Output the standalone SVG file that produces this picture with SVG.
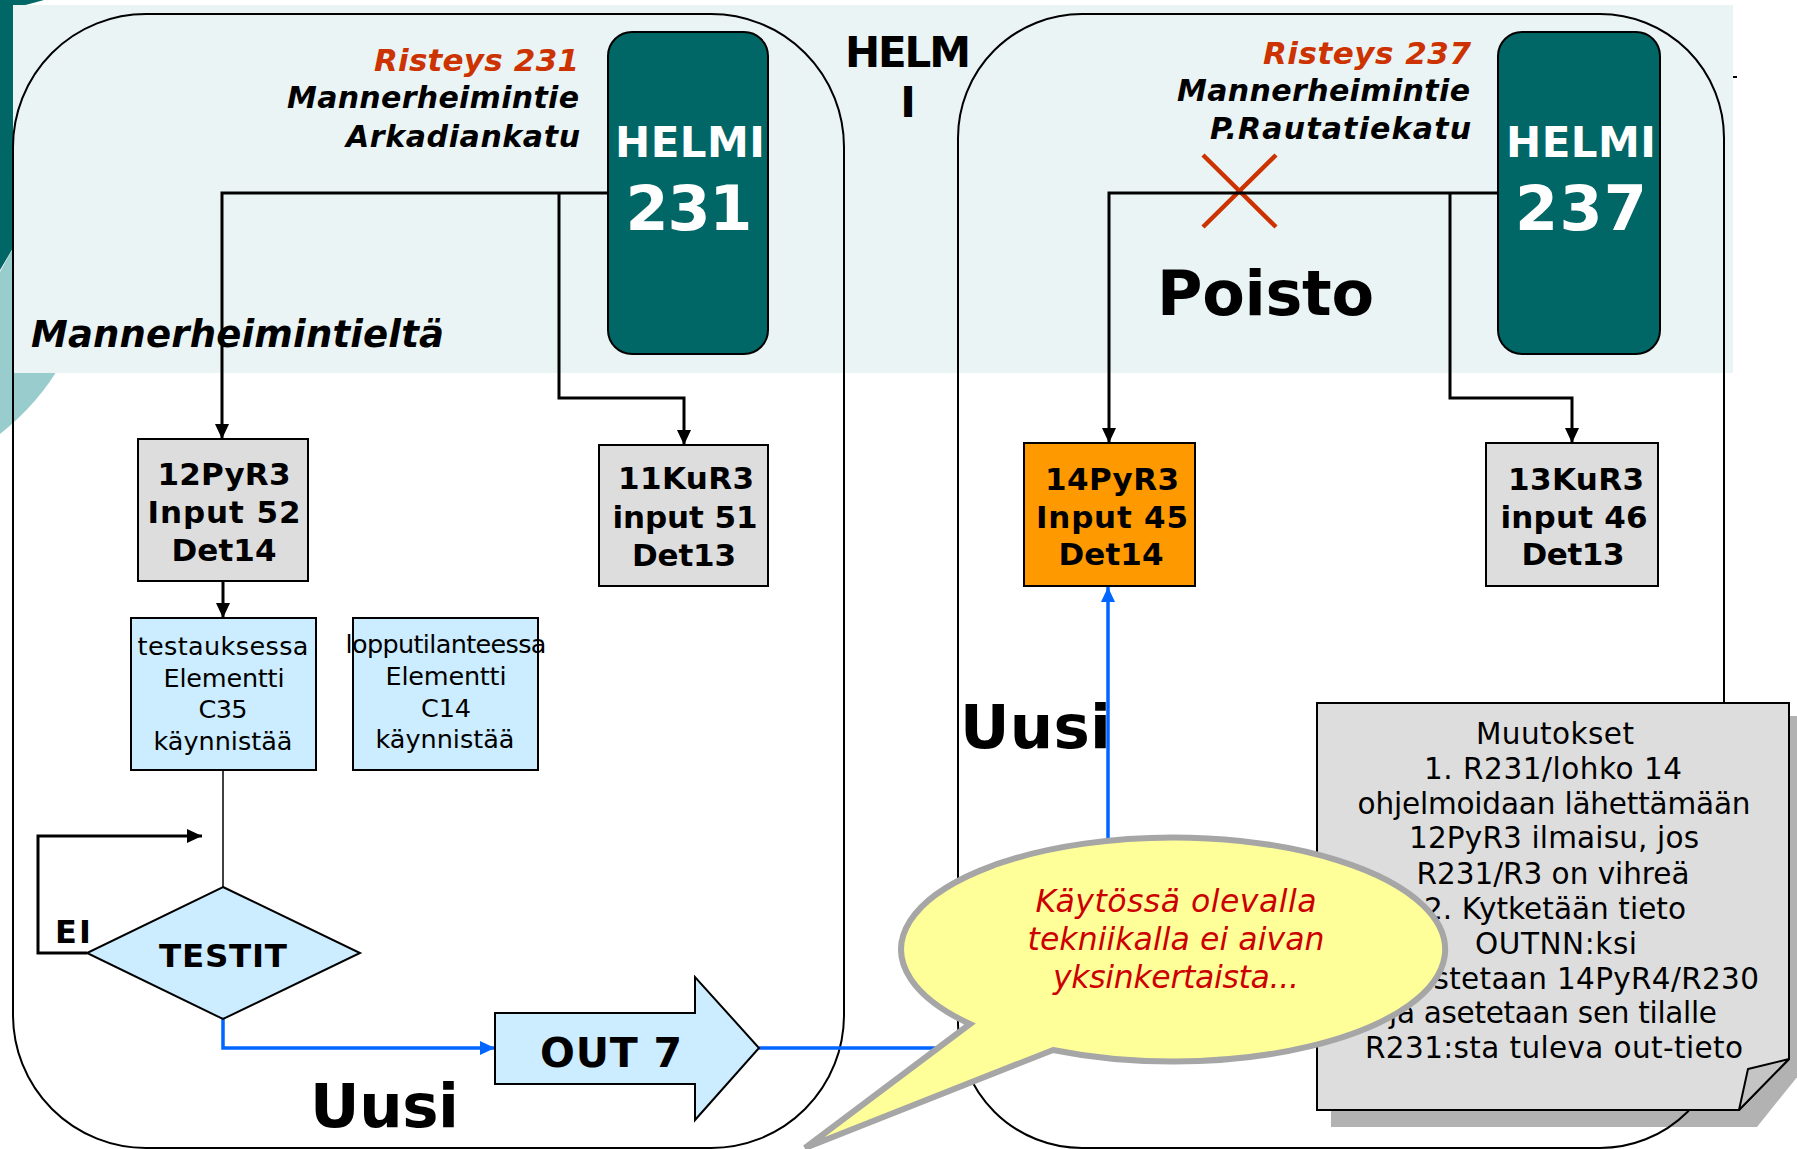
<svg xmlns="http://www.w3.org/2000/svg" width="1797" height="1149" viewBox="0 0 1797 1149">
<defs>
<marker id="ab" markerUnits="userSpaceOnUse" markerWidth="16" markerHeight="16" refX="15" refY="8" orient="auto"><path d="M0,1 L15,8 L0,15 Z" fill="#000"/></marker>
<marker id="abl" markerUnits="userSpaceOnUse" markerWidth="16" markerHeight="16" refX="15" refY="8" orient="auto"><path d="M0,1 L15,8 L0,15 Z" fill="#0066FF"/></marker>
</defs>
<style>
text{font-family:"DejaVu Sans",Verdana,sans-serif;fill:#000}
.b{font-weight:bold}
.bi{font-weight:bold;font-style:italic}
.it{font-style:italic}
.ln{fill:none;stroke:#000;stroke-width:3}
.bl{fill:none;stroke:#0066FF;stroke-width:3.5}
.gbox{fill:#DDDDDD;stroke:#000;stroke-width:2}
.lb{fill:#CCECFF;stroke:#000;stroke-width:2}
.helmi{fill:#006666;stroke:#000;stroke-width:2}
.panel{fill:none;stroke:#000;stroke-width:2}
.wt{fill:#fff;font-weight:bold}
.red{fill:#CC3300}
.c{text-anchor:middle}
.e{text-anchor:end}
</style>
<g id="background">
<path d="M0,0 H44 Q30,4 13,8 V248 L0,270 Z" fill="#006666"/>
<path d="M0,272 L14,246 L62,362 Q40,402 0,434 Z" fill="#99CCCC"/>
<rect x="13" y="5" width="1720" height="368" fill="#EAF4F5"/>
<rect x="1733" y="76" width="4" height="2" fill="#000"/>
</g>
<g id="panels">
<rect x="13" y="14" width="831" height="1134" rx="133" class="panel"/>
<rect x="958" y="14" width="766" height="1134" rx="124" class="panel"/>
</g>
<g id="labels">
<text x="579" y="71" class="bi red e" font-size="31" textLength="205">Risteys 231</text>
<text x="579" y="108" class="bi e" font-size="30" textLength="292">Mannerheimintie</text>
<text x="580" y="147" class="bi e" font-size="30" textLength="234">Arkadiankatu</text>
<text x="1471" y="64" class="bi red e" font-size="31" textLength="208">Risteys 237</text>
<text x="1470" y="101" class="bi e" font-size="30" textLength="293">Mannerheimintie</text>
<text x="1471" y="139" class="bi e" font-size="30" textLength="261">P.Rautatiekatu</text>
<text x="31" y="347" class="bi" font-size="37" textLength="413">Mannerheimintieltä</text>
<text x="908" y="67" class="b c" font-size="42" textLength="126">HELM</text>
<text x="908" y="117" class="b c" font-size="42">I</text>
<text x="1157" y="315" class="b" font-size="62" textLength="217">Poisto</text>
<text x="960" y="748" class="b" font-size="61" textLength="151">Uusi</text>
<text x="310" y="1127" class="b" font-size="61" textLength="149">Uusi</text>
<text x="55" y="943" class="b" font-size="32" textLength="36">EI</text>
<path d="M1203,155 L1276,227 M1276,155 L1203,227" stroke="#CC3300" stroke-width="4.5" fill="none"/>
</g>
<g id="connectors">
<path d="M608,193 H222 V439" class="ln" marker-end="url(#ab)"/>
<path d="M559,193 V398 H684 V445" class="ln" marker-end="url(#ab)"/>
<path d="M1498,193 H1109 V443" class="ln" marker-end="url(#ab)"/>
<path d="M1450,193 V398 H1572 V443" class="ln" marker-end="url(#ab)"/>
<path d="M223,581 V618" class="ln" marker-end="url(#ab)"/>
<path d="M223,770 V887" fill="none" stroke="#000" stroke-width="1.5"/>
<path d="M87,953 H38 V836 H202" class="ln" marker-end="url(#ab)"/>
<path d="M223,1019 V1048 H495" class="bl" marker-end="url(#abl)"/>
<path d="M759,1048 H1108 V587" class="bl" marker-end="url(#abl)"/>
</g>
<g id="helmi231">
<rect x="608" y="32" width="160" height="322" rx="24" class="helmi"/>
<text x="690" y="157" class="wt c" font-size="42" textLength="150">HELMI</text>
<text x="689" y="230" class="wt c" font-size="62" textLength="127">231</text>
</g>
<g id="helmi237">
<rect x="1498" y="32" width="162" height="322" rx="24" class="helmi"/>
<text x="1581" y="157" class="wt c" font-size="42" textLength="150">HELMI</text>
<text x="1581" y="230" class="wt c" font-size="62" textLength="132">237</text>
</g>
<g id="n12PyR3">
<rect x="138" y="439" width="170" height="142" class="gbox"/>
<text x="224" y="485" class="b c" font-size="31" textLength="133">12PyR3</text>
<text x="224" y="523" class="b c" font-size="31" textLength="153">Input 52</text>
<text x="224" y="561" class="b c" font-size="31" textLength="105">Det14</text>
</g>
<g id="n11KuR3">
<rect x="599" y="445" width="169" height="141" class="gbox"/>
<text x="686" y="489" class="b c" font-size="31" textLength="136">11KuR3</text>
<text x="685" y="528" class="b c" font-size="31" textLength="145">input 51</text>
<text x="684" y="566" class="b c" font-size="31" textLength="104">Det13</text>
</g>
<g id="n14PyR3">
<rect x="1024" y="443" width="171" height="143" fill="#FF9900" stroke="#000" stroke-width="2"/>
<text x="1112" y="490" class="b c" font-size="31" textLength="134">14PyR3</text>
<text x="1112" y="528" class="b c" font-size="31" textLength="152">Input 45</text>
<text x="1111" y="565" class="b c" font-size="31" textLength="105">Det14</text>
</g>
<g id="n13KuR3">
<rect x="1486" y="443" width="172" height="143" class="gbox"/>
<text x="1576" y="490" class="b c" font-size="31" textLength="136">13KuR3</text>
<text x="1574" y="528" class="b c" font-size="31" textLength="147">input 46</text>
<text x="1573" y="565" class="b c" font-size="31" textLength="103">Det13</text>
</g>
<g id="testauksessa">
<rect x="131" y="618" width="185" height="152" class="lb"/>
<text x="223" y="655" class="c" font-size="25.5" textLength="171">testauksessa</text>
<text x="224" y="687" class="c" font-size="25.5" textLength="121">Elementti</text>
<text x="223" y="718" class="c" font-size="25.5" textLength="49">C35</text>
<text x="223" y="750" class="c" font-size="25.5" textLength="139">käynnistää</text>
</g>
<g id="lopputilanteessa">
<rect x="353" y="618" width="185" height="152" class="lb"/>
<text x="446" y="653" class="c" font-size="25.5" textLength="201">lopputilanteessa</text>
<text x="446" y="685" class="c" font-size="25.5" textLength="121">Elementti</text>
<text x="446" y="717" class="c" font-size="25.5" textLength="50">C14</text>
<text x="445" y="748" class="c" font-size="25.5" textLength="139">käynnistää</text>
</g>
<g id="testit">
<path d="M223,887 L360,953 L223,1019 L87,953 Z" class="lb"/>
<text x="223" y="967" class="b c" font-size="32.5" textLength="128">TESTIT</text>
</g>
<g id="out7">
<path d="M495,1013 H695 V977 L759,1048 L695,1120 V1084 H495 Z" class="lb"/>
<text x="611" y="1067" class="b c" font-size="41" textLength="142">OUT 7</text>
</g>
<g id="muutokset">
<path d="M1331,716 H1806 V1066 L1757,1127 H1331 Z" fill="#000" fill-opacity="0.3"/>
<path d="M1317,703 H1789 V1059 L1739,1110 H1317 Z" fill="#DDDDDD" stroke="#000" stroke-width="2"/>
<path d="M1789,1059 L1748,1069 L1739,1110 Z" fill="#C4C4C4" stroke="#000" stroke-width="2" stroke-linejoin="round"/>
<g font-size="29.5">
<text x="1555" y="744" class="c" textLength="158">Muutokset</text>
<text x="1553" y="779" class="c" textLength="258">1. R231/lohko 14</text>
<text x="1554" y="814" class="c" textLength="393">ohjelmoidaan lähettämään</text>
<text x="1554" y="848" class="c" textLength="290">12PyR3 ilmaisu, jos</text>
<text x="1553" y="884" class="c" textLength="273">R231/R3 on vihreä</text>
<text x="1555" y="919" class="c" textLength="262">2. Kytketään tieto</text>
<text x="1556" y="954" class="c" textLength="162">OUTNN:ksi</text>
<text x="1555" y="989" class="c" textLength="408">3. Poistetaan 14PyR4/R230</text>
<text x="1553" y="1023" class="c" textLength="328">ja asetetaan sen tilalle</text>
<text x="1554" y="1058" class="c" textLength="378">R231:sta tuleva out-tieto</text>
</g>
</g>
<g id="bubble">
<path d="M970,1024 L805,1148 L1053,1050 A272,112 0 1 0 970,1024 Z" fill="#FFFF99" stroke="#A6A6A6" stroke-width="6" stroke-linejoin="miter"/>
<text x="1176" y="912" class="it c" font-size="31.5" style="fill:#CC0000" textLength="281">Käytössä olevalla</text>
<text x="1176" y="950" class="it c" font-size="31.5" style="fill:#CC0000" textLength="297">tekniikalla ei aivan</text>
<text x="1176" y="988" class="it c" font-size="31.5" style="fill:#CC0000" textLength="246">yksinkertaista...</text>
</g>
</svg>
